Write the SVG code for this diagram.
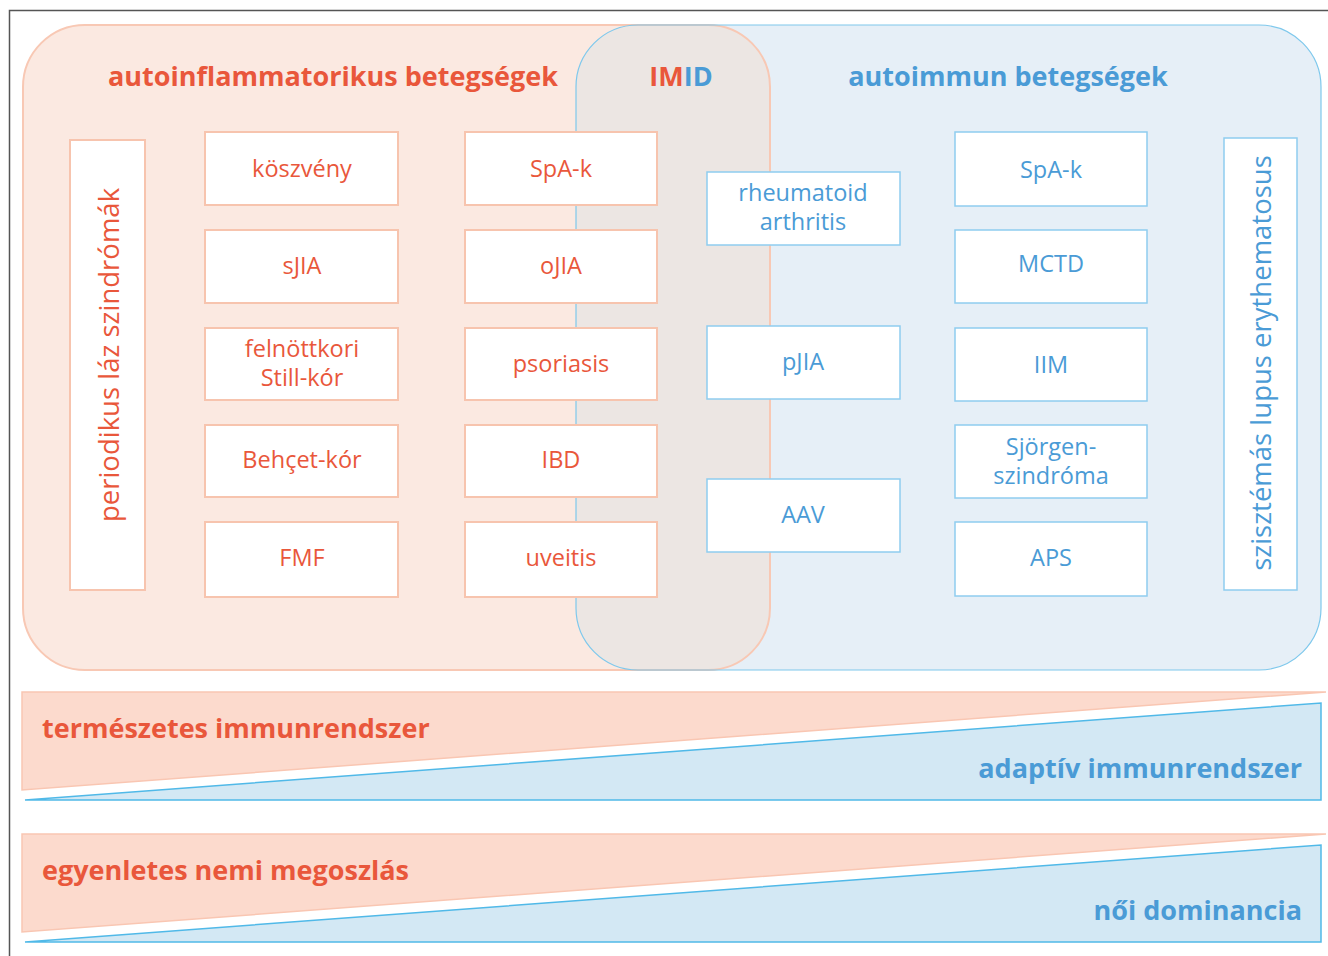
<svg xmlns="http://www.w3.org/2000/svg" width="1328" height="956" viewBox="0 0 1328 956">
<style>
text{font-family:"Open Sans","Noto Sans","Liberation Sans",sans-serif}
.r{fill:#e9573b}
.b{fill:#4a9bd6}
.t{font-size:27px;font-weight:bold}
.n{font-size:23.5px;text-anchor:middle}
.v{font-size:27.5px;text-anchor:middle}
.rb{fill:#ffffff;stroke:#f7c4ae;stroke-width:2}
.bb{fill:#ffffff;stroke:#8fcdef;stroke-width:1.5}
</style>
<rect width="1328" height="956" fill="#ffffff"/>
<path d="M9.5 956 V10.5 H1328" fill="none" stroke="#555" stroke-width="1.5"/>
<g id="regions">
<rect x="23" y="25" width="747" height="645" rx="62" fill="#fbe9e1"/>
<rect x="576" y="25" width="745" height="645" rx="62" fill="#e6eff7"/>
<path d="M638 25 H708 A62 62 0 0 1 770 87 V608 A62 62 0 0 1 708 670 H638 A62 62 0 0 1 576 608 V87 A62 62 0 0 1 638 25 Z" fill="#ece6e3"/>
<rect x="23" y="25" width="747" height="645" rx="62" fill="none" stroke="#f8c8b4" stroke-width="2"/>
<rect x="576" y="25" width="745" height="645" rx="62" fill="none" stroke="#7ec8ec" stroke-width="1.2"/>
</g>
<g id="titles">
<text class="t r" x="333" y="86" text-anchor="middle">autoinflammatorikus betegségek</text>
<text class="t" x="681" y="86" text-anchor="middle"><tspan class="r">IM</tspan><tspan class="b">ID</tspan></text>
<text class="t b" x="1008" y="86" text-anchor="middle">autoimmun betegségek</text>
</g>
<g id="periodikus"><rect class="rb" x="70" y="140" width="75" height="450"/><text class="v r" transform="translate(119 355) rotate(-90)">periodikus láz szindrómák</text></g>
<g id="koszveny"><rect class="rb" x="205" y="132" width="193" height="73"/><text class="n r" x="302" y="177">köszvény</text></g>
<g id="sjia"><rect class="rb" x="205" y="230" width="193" height="73"/><text class="n r" x="302" y="274">sJIA</text></g>
<g id="still"><rect class="rb" x="205" y="328" width="193" height="72"/><text class="n r" x="302" y="357">felnöttkori</text><text class="n r" x="302" y="386">Still-kór</text></g>
<g id="behcet"><rect class="rb" x="205" y="425" width="193" height="72"/><text class="n r" x="302" y="468">Behçet-kór</text></g>
<g id="fmf"><rect class="rb" x="205" y="522" width="193" height="75"/><text class="n r" x="302" y="566">FMF</text></g>
<g id="spa-red"><rect class="rb" x="465" y="132" width="192" height="73"/><text class="n r" x="561" y="177">SpA-k</text></g>
<g id="ojia"><rect class="rb" x="465" y="230" width="192" height="73"/><text class="n r" x="561" y="274">oJIA</text></g>
<g id="psoriasis"><rect class="rb" x="465" y="328" width="192" height="72"/><text class="n r" x="561" y="372">psoriasis</text></g>
<g id="ibd"><rect class="rb" x="465" y="425" width="192" height="72"/><text class="n r" x="561" y="468">IBD</text></g>
<g id="uveitis"><rect class="rb" x="465" y="522" width="192" height="75"/><text class="n r" x="561" y="566">uveitis</text></g>
<g id="ra"><rect class="bb" x="707" y="172" width="193" height="73"/><text class="n b" x="803" y="201">rheumatoid</text><text class="n b" x="803" y="230">arthritis</text></g>
<g id="pjia"><rect class="bb" x="707" y="326" width="193" height="73"/><text class="n b" x="803" y="370">pJIA</text></g>
<g id="aav"><rect class="bb" x="707" y="479" width="193" height="73"/><text class="n b" x="803" y="523">AAV</text></g>
<g id="spa-blue"><rect class="bb" x="955" y="132" width="192" height="74"/><text class="n b" x="1051" y="178">SpA-k</text></g>
<g id="mctd"><rect class="bb" x="955" y="230" width="192" height="73"/><text class="n b" x="1051" y="272">MCTD</text></g>
<g id="iim"><rect class="bb" x="955" y="328" width="192" height="73"/><text class="n b" x="1051" y="373">IIM</text></g>
<g id="sjorgen"><rect class="bb" x="955" y="425" width="192" height="73"/><text class="n b" x="1051" y="455">Sjörgen-</text><text class="n b" x="1051" y="484">szindróma</text></g>
<g id="aps"><rect class="bb" x="955" y="522" width="192" height="74"/><text class="n b" x="1051" y="566">APS</text></g>
<g id="sle"><rect class="bb" x="1224" y="138" width="73" height="452"/><text class="v b" transform="translate(1271 363) rotate(-90)">szisztémás lupus erythematosus</text></g>
<g id="band1">
<polygon points="22,692 1326,692 22,790" fill="#fcdacd" stroke="#f9c6b2" stroke-width="1.5"/>
<polygon points="25,800 1321,703 1321,800" fill="#d3e8f4" stroke="#50b9e8" stroke-width="1.5"/>
<text class="t r" x="42" y="738">természetes immunrendszer</text>
<text class="t b" x="1302" y="778" text-anchor="end">adaptív immunrendszer</text>
</g>
<g id="band2">
<polygon points="22,834 1326,834 22,932" fill="#fcdacd" stroke="#f9c6b2" stroke-width="1.5"/>
<polygon points="25,942 1321,845 1321,942" fill="#d3e8f4" stroke="#50b9e8" stroke-width="1.5"/>
<text class="t r" x="42" y="880">egyenletes nemi megoszlás</text>
<text class="t b" x="1302" y="920" text-anchor="end">női dominancia</text>
</g>
</svg>
